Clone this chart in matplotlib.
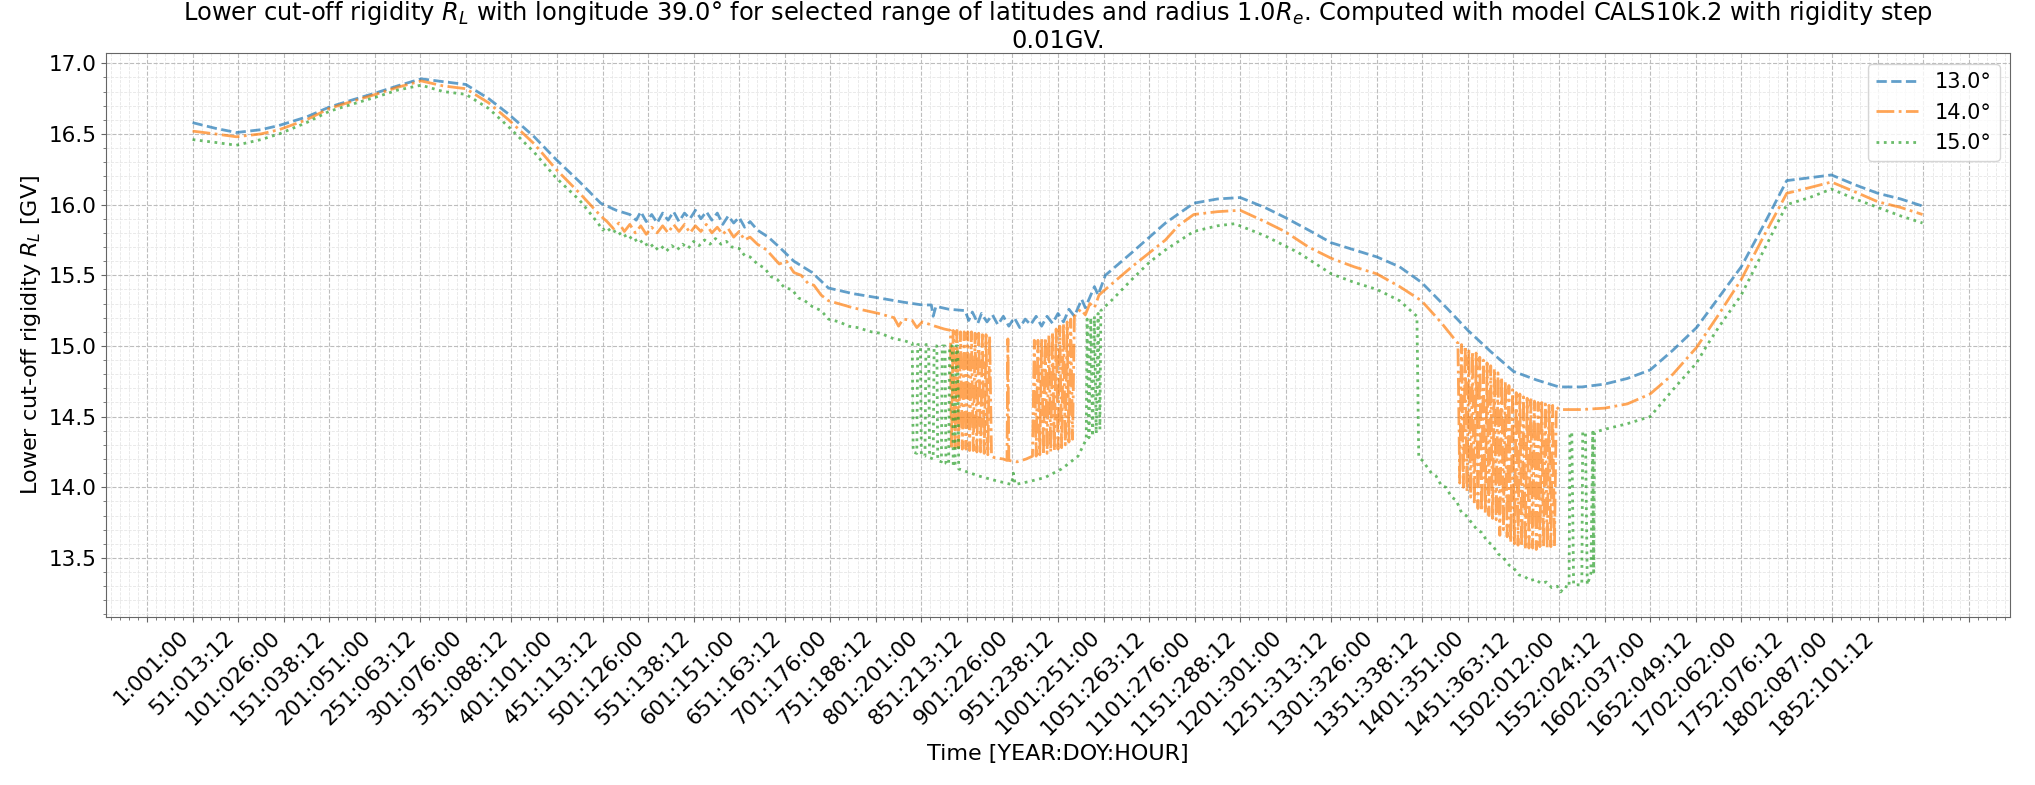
import matplotlib.pyplot as plt
from matplotlib.ticker import AutoMinorLocator

# tick labels shown every 50 samples (YEAR:DOY:HOUR)
time_labels = [
    "1:001:00", "51:013:12", "101:026:00", "151:038:12", "201:051:00", "251:063:12",
    "301:076:00", "351:088:12", "401:101:00", "451:113:12", "501:126:00", "551:138:12",
    "601:151:00", "651:163:12", "701:176:00", "751:188:12", "801:201:00", "851:213:12",
    "901:226:00", "951:238:12", "1001:251:00", "1051:263:12", "1101:276:00", "1151:288:12",
    "1201:301:00", "1251:313:12", "1301:326:00", "1351:338:12", "1401:351:00", "1451:363:12",
    "1502:012:00", "1552:024:12", "1602:037:00", "1652:049:12", "1702:062:00", "1752:076:12",
    "1802:087:00", "1852:101:12",
]

# (sample index, rigidity GV)
lat13 = [
    (0, 16.58), (25, 16.54), (48, 16.51), (75, 16.53), (95, 16.56), (125, 16.62), (150, 16.69),
    (175, 16.74), (201, 16.79), (225, 16.84), (251, 16.89), (275, 16.87), (300, 16.85), (325, 16.75),
    (347, 16.64), (375, 16.48), (399, 16.32), (425, 16.16), (448, 16.01), (465, 15.96), (480, 15.93),
    (487, 15.89), (492, 15.95), (498, 15.88), (504, 15.93), (510, 15.87), (516, 15.94), (522, 15.89),
    (528, 15.95), (534, 15.88), (540, 15.94), (546, 15.90), (552, 15.96), (558, 15.90), (564, 15.95),
    (570, 15.89), (576, 15.94), (582, 15.86), (588, 15.92), (594, 15.87), (600, 15.91), (606, 15.84),
    (612, 15.88), (620, 15.82), (632, 15.77), (644, 15.70), (660, 15.60), (680, 15.52), (698, 15.41),
    (725, 15.37), (753, 15.34), (780, 15.31), (801, 15.29), (811, 15.29), (813, 15.21), (816, 15.28),
    (830, 15.26), (848, 15.25), (852, 15.18), (856, 15.24), (862, 15.16), (866, 15.23), (872, 15.17),
    (878, 15.22), (884, 15.15), (890, 15.21), (896, 15.14), (902, 15.20), (908, 15.13), (914, 15.19),
    (920, 15.15), (926, 15.21), (932, 15.14), (938, 15.21), (944, 15.16), (950, 15.23), (956, 15.17),
    (962, 15.26), (968, 15.21), (976, 15.33), (980, 15.27), (990, 15.42), (994, 15.36), (1002, 15.50),
    (1031, 15.66), (1068, 15.87), (1099, 16.01), (1125, 16.04), (1150, 16.05), (1177, 15.98),
    (1199, 15.91), (1225, 15.82), (1250, 15.73), (1275, 15.68), (1300, 15.63), (1325, 15.56),
    (1349, 15.45), (1378, 15.26), (1400, 15.11), (1425, 14.96), (1450, 14.82), (1475, 14.76),
    (1500, 14.71), (1525, 14.71), (1550, 14.73), (1575, 14.77), (1600, 14.83), (1625, 14.97),
    (1651, 15.13), (1675, 15.34), (1700, 15.56), (1725, 15.86), (1750, 16.17), (1775, 16.19),
    (1799, 16.21), (1825, 16.14), (1850, 16.08), (1875, 16.04), (1899, 15.99),
]

lat14 = [
    (0, 16.52), (25, 16.50), (48, 16.48), (75, 16.50), (95, 16.53), (125, 16.60), (150, 16.68),
    (175, 16.73), (201, 16.78), (225, 16.83), (251, 16.875), (275, 16.84), (300, 16.82), (325, 16.72),
    (347, 16.60), (375, 16.43), (399, 16.25), (425, 16.08), (448, 15.92), (455, 15.88), (462, 15.83),
    (468, 15.87), (474, 15.81), (480, 15.86), (486, 15.80), (492, 15.85), (498, 15.79), (504, 15.84),
    (510, 15.80), (516, 15.85), (522, 15.80), (528, 15.86), (534, 15.81), (540, 15.86), (546, 15.80),
    (552, 15.85), (558, 15.81), (564, 15.86), (570, 15.80), (576, 15.84), (582, 15.79), (588, 15.83),
    (594, 15.77), (600, 15.81), (606, 15.75), (612, 15.77), (620, 15.72), (630, 15.68), (644, 15.58),
    (652, 15.60), (660, 15.52), (668, 15.50), (676, 15.44), (682, 15.43), (690, 15.36), (698, 15.32),
    (725, 15.27), (753, 15.23), (770, 15.20), (775, 15.14), (780, 15.19), (790, 15.18), (795, 15.13),
    (801, 15.17), (815, 15.14), (825, 15.12),
    (832, 15.11), (833, 14.29), (835, 15.11), (837, 14.28), (839, 15.11), (841, 14.28), (843, 15.10),
    (845, 14.27), (847, 15.10), (849, 14.27), (851, 15.10), (853, 14.26), (855, 15.10), (857, 14.26),
    (859, 15.09), (861, 14.25), (863, 15.09), (865, 14.25), (867, 15.08), (869, 14.24), (871, 15.08),
    (873, 14.23), (875, 15.07), (877, 14.22), (880, 14.21), (890, 14.20), (894, 14.19), (895, 15.05),
    (896, 14.19), (905, 14.18), (915, 14.20), (922, 14.22),
    (924, 15.04), (926, 14.22), (928, 15.04), (930, 14.23), (932, 15.05), (934, 14.23), (936, 15.06),
    (938, 14.24), (940, 15.08), (942, 14.25), (944, 15.10), (946, 14.26), (948, 15.12), (950, 14.27),
    (952, 15.14), (954, 14.28), (956, 15.16), (958, 14.30), (960, 15.17), (962, 14.32), (964, 15.19),
    (966, 14.34), (968, 15.21),
    (975, 15.26), (980, 15.22), (985, 15.30), (990, 15.27), (995, 15.36), (1002, 15.40), (1031, 15.56),
    (1068, 15.75), (1082, 15.85), (1099, 15.93), (1125, 15.95), (1150, 15.96), (1177, 15.88),
    (1199, 15.81), (1225, 15.70), (1250, 15.62), (1275, 15.56), (1300, 15.51), (1325, 15.42),
    (1349, 15.32), (1370, 15.17), (1385, 15.05),
    (1389, 15.02), (1391, 14.03), (1393, 15.01), (1395, 14.00), (1397, 15.00), (1399, 13.97),
    (1401, 14.98), (1403, 13.93), (1405, 14.96), (1407, 13.88), (1409, 14.95), (1411, 13.85),
    (1413, 14.92), (1415, 13.83), (1417, 14.90), (1419, 13.82), (1421, 14.88), (1423, 13.80),
    (1425, 14.86), (1427, 13.78), (1429, 14.84), (1431, 13.77), (1433, 14.81), (1435, 13.66),
    (1437, 14.78), (1439, 13.70), (1441, 14.75), (1443, 13.65), (1445, 14.72), (1447, 13.61),
    (1449, 14.69), (1451, 13.60), (1453, 14.67), (1455, 13.59), (1457, 14.66), (1459, 13.58),
    (1461, 14.64), (1463, 13.56), (1465, 14.63), (1467, 13.57), (1469, 14.62), (1471, 13.57),
    (1473, 14.61), (1475, 13.56), (1477, 14.60), (1479, 13.58), (1481, 14.60), (1483, 13.58),
    (1485, 14.59), (1487, 13.57), (1489, 14.58), (1491, 13.58), (1493, 14.58), (1495, 13.58),
    (1497, 14.57),
    (1500, 14.55), (1525, 14.55), (1550, 14.56), (1575, 14.59), (1600, 14.66), (1625, 14.80),
    (1651, 14.99), (1675, 15.22), (1700, 15.47), (1725, 15.78), (1750, 16.08), (1775, 16.12),
    (1799, 16.16), (1825, 16.09), (1850, 16.02), (1875, 15.98), (1899, 15.93),
]

lat15 = [
    (0, 16.46), (25, 16.44), (48, 16.42), (75, 16.46), (95, 16.50), (125, 16.58), (150, 16.66),
    (175, 16.71), (201, 16.76), (225, 16.81), (251, 16.845), (275, 16.80), (300, 16.78), (325, 16.68),
    (347, 16.55), (375, 16.37), (399, 16.19), (425, 16.03), (440, 15.91), (446, 15.86), (450, 15.82),
    (455, 15.84), (460, 15.80), (466, 15.82), (472, 15.77), (478, 15.79), (484, 15.74), (490, 15.76),
    (496, 15.71), (502, 15.73), (508, 15.68), (514, 15.71), (520, 15.67), (526, 15.71), (532, 15.68),
    (538, 15.72), (544, 15.69), (550, 15.74), (556, 15.71), (562, 15.75), (568, 15.72), (574, 15.76),
    (580, 15.72), (586, 15.74), (592, 15.70), (600, 15.69), (606, 15.64), (612, 15.63), (620, 15.58),
    (628, 15.55), (635, 15.49), (642, 15.47), (650, 15.41), (658, 15.40), (665, 15.34), (672, 15.32),
    (680, 15.28), (690, 15.25), (698, 15.19), (710, 15.17), (720, 15.14), (730, 15.13), (745, 15.10),
    (755, 15.09), (770, 15.05), (780, 15.04), (789, 15.02),
    (790, 15.02), (791, 14.25), (795, 14.24), (796, 15.01), (799, 15.01), (800, 14.23), (804, 14.22),
    (805, 15.01), (808, 15.01), (809, 14.21), (813, 14.20), (814, 15.00), (817, 15.00), (818, 14.19),
    (822, 14.18), (823, 15.00), (826, 15.00), (827, 14.17), (830, 14.16), (831, 15.00), (834, 15.00),
    (835, 14.15), (837, 14.15), (838, 15.00), (840, 15.00), (841, 14.13),
    (863, 14.08), (880, 14.05), (899, 14.02), (901, 14.10), (903, 14.02), (918, 14.04), (936, 14.07),
    (954, 14.13), (972, 14.22), (981, 14.34),
    (982, 15.19), (984, 14.35), (986, 15.20), (988, 14.36), (990, 15.21), (992, 14.38), (994, 15.23),
    (996, 14.41), (997, 15.25),
    (1010, 15.33), (1031, 15.47), (1050, 15.59), (1068, 15.68), (1099, 15.81), (1125, 15.85),
    (1144, 15.865), (1177, 15.78), (1214, 15.66), (1250, 15.51), (1275, 15.45), (1300, 15.40),
    (1325, 15.32), (1344, 15.21), (1346, 14.21), (1350, 14.19), (1360, 14.10), (1365, 14.08),
    (1371, 14.01), (1376, 14.00), (1382, 13.93), (1387, 13.91), (1393, 13.82), (1398, 13.80),
    (1404, 13.75), (1410, 13.70), (1415, 13.68), (1421, 13.62), (1427, 13.59), (1433, 13.53),
    (1439, 13.50), (1445, 13.45), (1450, 13.43), (1456, 13.38), (1462, 13.37), (1468, 13.34),
    (1474, 13.35), (1480, 13.32), (1486, 13.33), (1492, 13.29), (1498, 13.30), (1502, 13.26),
    (1506, 13.30), (1511, 13.29),
    (1512, 14.38), (1514, 14.39), (1516, 13.31), (1525, 13.31), (1526, 14.39), (1529, 14.39),
    (1531, 13.31), (1535, 13.39), (1537, 14.39), (1538, 13.40), (1539, 14.39),
    (1550, 14.41), (1575, 14.45), (1600, 14.50), (1625, 14.69), (1651, 14.88), (1662, 15.00),
    (1675, 15.13), (1700, 15.36), (1725, 15.68), (1750, 16.00), (1775, 16.05), (1799, 16.11),
    (1825, 16.04), (1850, 15.98), (1875, 15.92), (1899, 15.87),
]

series = [
    ("13.0°", lat13, "--", "tab:blue"),
    ("14.0°", lat14, "-.", "tab:orange"),
    ("15.0°", lat15, ":", "tab:green"),
]

fig, ax = plt.subplots(figsize=(20.35, 7.85), dpi=100)
fig.subplots_adjust(left=0.0521, right=0.9877, top=0.932, bottom=0.2136)

for name, pts, ls, col in series:
    xs = [p[0] for p in pts]
    ys = [p[1] for p in pts]
    ax.plot(xs, ys, linestyle=ls, color=col, alpha=0.7, linewidth=2, label=name)

# major ticks every 50 samples, labels only where data has a time stamp
ticks = list(range(-50, 2000, 50))
tick_text = [time_labels[t // 50] if 0 <= t < 50 * len(time_labels) else "" for t in ticks]
ax.set_xticks(ticks)
ax.set_xticklabels(tick_text, rotation=45, ha="right", fontsize=15.5)
ax.tick_params(axis="y", labelsize=15.5)
ax.xaxis.set_minor_locator(AutoMinorLocator(5))
ax.yaxis.set_minor_locator(AutoMinorLocator(5))
ax.set_xlim(-95, 1995)
ax.set_ylim(13.08, 17.07)

ax.grid(which="major", linestyle="--", color="#bdbdbd", linewidth=0.8)
ax.grid(which="minor", linestyle="--", color="#e6e6e6", linewidth=0.6)
for sp in ax.spines.values():
    sp.set_color("#666666")
ax.tick_params(which="both", color="#666666")

ax.set_xlabel("Time [YEAR:DOY:HOUR]", fontsize=16)
ax.set_ylabel("Lower cut-off rigidity $R_L$ [GV]", fontsize=16)
ax.set_title("Lower cut-off rigidity $R_L$ with longitude 39.0° for selected range of latitudes "
             "and radius 1.0$R_e$. Computed with model CALS10k.2 with rigidity step\n0.01GV.",
             fontsize=17.4, pad=2, linespacing=1.1)
ax.legend(loc="upper right", fontsize=15)

fig.savefig("out.png", dpi=100)
